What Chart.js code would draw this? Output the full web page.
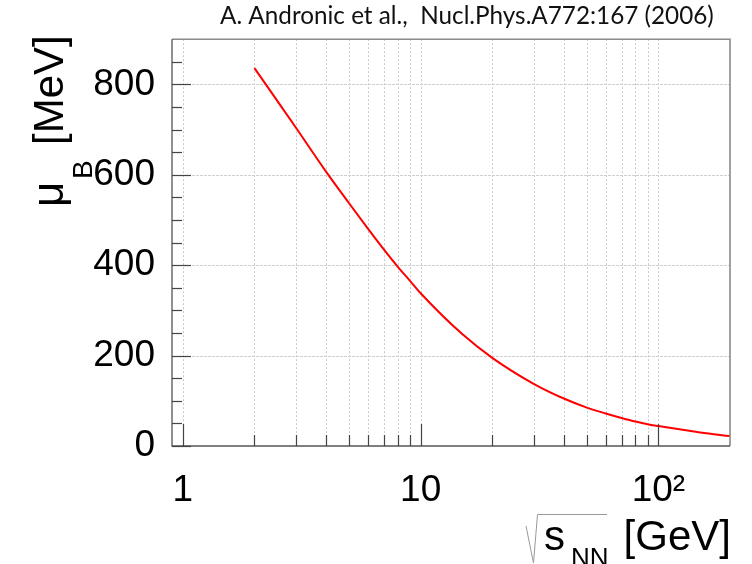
<!DOCTYPE html>
<html>
<head>
<meta charset="utf-8">
<script src="https://cdn.jsdelivr.net/npm/chart.js@4.4.1/dist/chart.umd.min.js"></script>
<style>
  html, body { margin: 0; padding: 0; background: #fff; }
  #c { display: block; }
</style>
</head>
<body>
<canvas id="c" width="752" height="564"></canvas>
<script>
// ---- data ----
const sqrtS = [2, 2.5, 3, 4, 5, 6, 7, 8, 9, 10, 15, 20, 30, 40, 50, 60, 70, 80, 90, 100, 150, 200];
const muB   = [836, 763, 703, 607, 537, 481, 435, 397, 366, 338, 247, 195, 137, 105, 85, 72, 62, 54, 48, 44, 30, 22];

const xMajorValues = [1, 10, 100];
const xTickLabels  = ['1', '10', '10\u00B2'];
const xMinorValues = [2, 3, 4, 5, 6, 7, 8, 9, 20, 30, 40, 50, 60, 70, 80, 90];
const yMajorValues = [0, 200, 400, 600, 800];
const yTickLabels  = ['0', '200', '400', '600', '800'];
const yMinorValues = [50, 100, 150, 250, 300, 350, 450, 500, 550, 650, 700, 750, 850];
const yGridValues  = [200, 400, 600, 800];
const xGridValues  = [1, 2, 3, 4, 5, 6, 7, 8, 9, 10, 20, 30, 40, 50, 60, 70, 80, 90, 100];

const titleText = 'A. Andronic et al.,  Nucl.Phys.A772:167 (2006)';

const AX = '"Liberation Sans", Arial, Helvetica, sans-serif';

const rootPlugin = {
  id: 'rootStyle',
  beforeDatasetsDraw(chart) {
    const {ctx, chartArea: a, scales: {x, y}} = chart;
    ctx.save();
    ctx.lineWidth = 1;
    // vertical grid
    ctx.strokeStyle = '#c8c8c8';
    ctx.setLineDash([2, 2]);
    xGridValues.forEach(v => {
      const px = Math.round(x.getPixelForValue(v)) + 0.5;
      ctx.beginPath(); ctx.moveTo(px, a.top); ctx.lineTo(px, a.bottom); ctx.stroke();
    });
    // horizontal grid
    ctx.strokeStyle = '#cfcfcf';
    ctx.setLineDash([3, 1]);
    yGridValues.forEach(v => {
      const py = Math.round(y.getPixelForValue(v)) + 0.5;
      ctx.beginPath(); ctx.moveTo(a.left, py); ctx.lineTo(a.right, py); ctx.stroke();
    });
    ctx.restore();
  },
  afterDatasetsDraw(chart) {
    const {ctx, chartArea: a, scales: {x, y}} = chart;
    ctx.save();
    ctx.setLineDash([]);
    // frame: top & right
    ctx.strokeStyle = '#8a8a8a';
    ctx.lineWidth = 1.6;
    ctx.beginPath();
    ctx.moveTo(a.left, a.top); ctx.lineTo(a.right, a.top); ctx.lineTo(a.right, a.bottom);
    ctx.stroke();
    // axes: left & bottom
    ctx.strokeStyle = '#555';
    ctx.lineWidth = 1.3;
    ctx.beginPath();
    ctx.moveTo(a.left, a.top); ctx.lineTo(a.left, a.bottom); ctx.lineTo(a.right, a.bottom);
    ctx.stroke();
    // tick marks (inside)
    ctx.strokeStyle = '#444';
    ctx.lineWidth = 1.2;
    xMajorValues.forEach(v => {
      const px = Math.round(x.getPixelForValue(v)) + 0.5;
      ctx.beginPath(); ctx.moveTo(px, a.bottom); ctx.lineTo(px, a.bottom - 22); ctx.stroke();
    });
    xMinorValues.forEach(v => {
      const px = Math.round(x.getPixelForValue(v)) + 0.5;
      ctx.beginPath(); ctx.moveTo(px, a.bottom); ctx.lineTo(px, a.bottom - 11); ctx.stroke();
    });
    yMajorValues.forEach(v => {
      const py = Math.round(y.getPixelForValue(v)) + 0.5;
      ctx.beginPath(); ctx.moveTo(a.left, py); ctx.lineTo(a.left + 19, py); ctx.stroke();
    });
    yMinorValues.forEach(v => {
      const py = Math.round(y.getPixelForValue(v)) + 0.5;
      ctx.beginPath(); ctx.moveTo(a.left, py); ctx.lineTo(a.left + 10, py); ctx.stroke();
    });
    ctx.restore();
  },
  afterDraw(chart) {
    const {ctx} = chart;
    ctx.save();
    ctx.fillStyle = '#111';
    ctx.textBaseline = 'alphabetic';
    // title (Calibri-like)
    let fs = 21;
    ctx.font = fs + 'px Lato, "Open Sans", sans-serif';
    const w = ctx.measureText(titleText).width;
    fs = fs * 494 / w;
    ctx.font = fs.toFixed(2) + 'px Lato, "Open Sans", sans-serif';
    ctx.textAlign = 'left';
    ctx.fillText(titleText, 220, 23.5);

    // y-axis title: mu_B [MeV]
    ctx.fillStyle = '#000';
    ctx.save();
    ctx.translate(63, 207);
    ctx.rotate(-Math.PI / 2);
    ctx.textAlign = 'left';
    ctx.font = '44px ' + AX;
    ctx.fillText('\u03BC', 0, 0);
    ctx.font = '28px ' + AX;
    ctx.fillText('B', 28, 29);
    ctx.font = '42px ' + AX;
    ctx.fillText('[MeV]', 62, 0);
    ctx.restore();

    // x-axis title: sqrt(s_NN) [GeV]
    ctx.strokeStyle = '#999';
    ctx.lineWidth = 1;
    ctx.beginPath();
    ctx.moveTo(526, 526); ctx.lineTo(533.5, 563); ctx.lineTo(537.5, 514.5); ctx.lineTo(607, 514.5);
    ctx.stroke();
    ctx.font = '42px ' + AX;
    ctx.textAlign = 'left';
    ctx.fillText('s', 544, 550);
    ctx.font = '26px ' + AX;
    ctx.fillText('NN', 571, 566);
    ctx.font = '42px ' + AX;
    ctx.textAlign = 'right';
    ctx.fillText('[GeV]', 731, 550);
    ctx.restore();
  }
};

const chart = new Chart(document.getElementById('c'), {
  type: 'line',
  data: {
    datasets: [{
      data: sqrtS.map((v, i) => ({x: v, y: muB[i]})),
      borderColor: '#ff0000',
      borderWidth: 2,
      pointRadius: 0,
      fill: false,
      cubicInterpolationMode: 'monotone'
    }]
  },
  options: {
    responsive: false,
    animation: false,
    devicePixelRatio: 1,
    layout: { padding: { top: 36, right: 22, left: 0, bottom: 0 } },
    plugins: { legend: { display: false }, tooltip: { enabled: false }, title: { display: false } },
    scales: {
      x: {
        type: 'logarithmic',
        min: 0.9,
        max: 200,
        grid: { display: false, drawTicks: false },
        border: { display: false },
        afterBuildTicks: s => { s.ticks = xMajorValues.map(v => ({value: v})); },
        afterFit: s => { s.height = 118; },
        ticks: {
          autoSkip: false,
          maxRotation: 0,
          padding: 23,
          color: '#000',
          font: { family: AX, size: 37 },
          callback: (v, i) => xTickLabels[i]
        }
      },
      y: {
        type: 'linear',
        min: 0,
        max: 900,
        grid: { display: false, drawTicks: false },
        border: { display: false },
        afterBuildTicks: s => { s.ticks = yMajorValues.map(v => ({value: v})); },
        afterFit: s => { s.width = 172; },
        ticks: {
          autoSkip: false,
          padding: 17,
          color: '#000',
          font: { family: AX, size: 37 },
          callback: (v, i) => yTickLabels[i]
        }
      }
    }
  },
  plugins: [rootPlugin]
});
</script>
</body>
</html>
